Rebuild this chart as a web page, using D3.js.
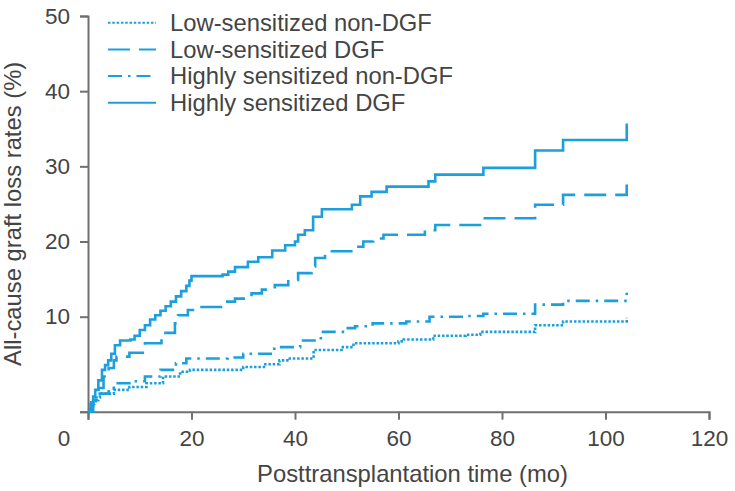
<!DOCTYPE html>
<html><head><meta charset="utf-8">
<script src="https://cdn.jsdelivr.net/npm/d3@7"></script>
<style>
html,body{margin:0;padding:0;background:#fff;}
text{font-family:"Liberation Sans",Arial,sans-serif;fill:#444;}
</style></head>
<body><svg id="c" width="735" height="491"></svg>
<script>
const seriesNames = ["Low-sensitized non-DGF","Low-sensitized DGF","Highly sensitized non-DGF","Highly sensitized DGF"];
const dashes = ["2.5,1.8","22,9","14,6,2.5,6",null];
const xTicks = [0,20,40,60,80,100,120];
const yTicks = [0,10,20,30,40,50];

const lowNonDGF = [[0,0],[0.5,0.6],[1,1.1],[1.5,1.5],[2.3,1.9],[5,2.3],[8,2.6],[11.3,3.0],[14.5,3.7],[17.8,4.2],[19.7,4.4],[30,4.7],[34,5.0],[37,5.4],[39,5.6],[43.6,6.5],[49,6.8],[51.3,7.2],[60,7.4],[61,7.6],[66.7,8.0],[73,8.1],[75.8,8.4],[86.4,9.1],[91.8,9.5],[104.1,9.9]];
const lowDGF = [[0,0],[1,1.2],[2,2.5],[3,3.7],[4,4.6],[5,5.4],[5.5,5.8],[8,6.2],[11,7.2],[14.2,8.3],[16.8,9.3],[17.4,10.2],[19.3,10.9],[20.6,11.3],[26.5,12.0],[28.4,12.4],[31.6,13.1],[33.6,13.6],[36.1,14.2],[38.7,14.9],[40.6,15.8],[43.2,16.7],[43.9,17.8],[45.8,18.7],[51.6,19.3],[53.2,20.0],[55.1,20.4],[57.1,20.9],[65.1,21.5],[67.1,22.2],[76.4,23.1],[86.4,24.9],[91.8,26.2],[104.1,28.0]];
const highNonDGF = [[0,0],[0.5,0.8],[1.2,1.5],[1.7,1.9],[4,2.4],[5,3.0],[8,3.2],[11,3.7],[14,4.4],[17,5.1],[19,5.6],[27,5.7],[30,6.1],[36,6.8],[41,7.5],[45,8.4],[50.2,8.8],[51.6,9.0],[55,9.3],[61.5,9.5],[66,10.0],[72.5,10.1],[76.4,10.4],[86.4,11.6],[91.8,12.1],[104.1,13.2]];
const highDGF = [[0,0],[0.6,1.0],[1.0,1.6],[1.4,2.3],[2.0,3.3],[2.7,4.4],[3.3,4.9],[3.9,5.4],[4.5,6.1],[5.2,7.0],[6.2,7.5],[8.2,7.6],[9,8.0],[10,8.6],[11,9.1],[12,9.7],[13,10.2],[14,10.8],[15,11.4],[16,12.0],[17,12.7],[18,13.4],[19,14.1],[19.6,14.8],[20,15.4],[26,15.6],[27.1,16.0],[28.4,16.6],[30.9,17.3],[32.9,17.9],[35.6,18.8],[38.1,19.5],[40,20.0],[40.6,20.9],[41.9,21.5],[43.5,23.3],[45.2,24.3],[51,24.9],[52.6,26.0],[54.8,26.6],[57.7,27.3],[65.8,28.0],[67.1,28.9],[76.4,29.8],[86.4,32.1],[91.8,33.5],[104.1,35.7]];
const allSeries = [lowNonDGF, lowDGF, highNonDGF, highDGF];

const color = "#1c9fdc";
const axisColor = "#707070";
const svg = d3.select("#c");
svg.append("rect").attr("width",735).attr("height",491).attr("fill","#fff");

const x = d3.scaleLinear().domain([0,120]).range([88,709]);
const y = d3.scaleLinear().domain([0,10,50]).range([411.7,316.7,16]);

const gx = svg.append("g").attr("transform",`translate(0,${y(0)})`)
  .call(d3.axisBottom(x).tickValues(xTicks).tickSize(8).tickPadding(10).tickFormat(d=>d===0?"":d));
const gy = svg.append("g").attr("transform",`translate(${x(0)},0)`)
  .call(d3.axisLeft(y).tickValues(yTicks).tickSize(8).tickPadding(10).tickFormat(d=>d===0?"":d));
[gx,gy].forEach(g=>{
  g.selectAll("path.domain").attr("stroke",axisColor).attr("stroke-width",2);
  g.selectAll(".tick line").attr("stroke",axisColor).attr("stroke-width",2);
  g.selectAll(".tick text").attr("font-size",22.5).attr("fill","#444").style("font-family","'Liberation Sans',Arial,sans-serif");
});
svg.append("text").attr("x",x(0)-24).attr("y",y(0)+8+10).attr("dy","0.71em")
  .attr("text-anchor","middle").attr("font-size",22.5).text("0");

svg.append("text").attr("x",(x(0)+x(120))/2+14).attr("y",482)
  .attr("text-anchor","middle").attr("font-size",23.8).text("Posttransplantation time (mo)");
svg.append("text").attr("transform",`translate(21,${(y(0)+y(50))/2}) rotate(-90)`)
  .attr("text-anchor","middle").attr("font-size",23.8).text("All-cause graft loss rates (%)");

const line = d3.line().x(d=>x(d[0])).y(d=>y(d[1])).curve(d3.curveStepAfter);
allSeries.forEach((s,i)=>{
  svg.append("path").datum(s).attr("d",line).attr("fill","none")
    .attr("stroke",color).attr("stroke-width",2.6)
    .attr("stroke-dasharray",dashes[i]);
});

const lg = svg.append("g");
seriesNames.forEach((n,i)=>{
  const yy = 22.7 + i*26.7;
  lg.append("line").attr("x1",108).attr("x2",156).attr("y1",yy).attr("y2",yy)
    .attr("stroke",color).attr("stroke-width",2).attr("stroke-dasharray",dashes[i]);
  lg.append("text").attr("x",170).attr("y",yy).attr("dy","0.35em").attr("font-size",23.8).text(n);
});
</script></body></html>
